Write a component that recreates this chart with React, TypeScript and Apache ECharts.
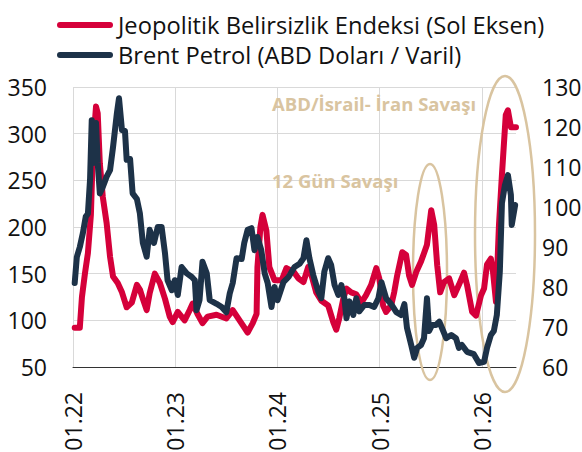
import React, { useEffect, useRef } from "react";
import * as echarts from "echarts";

// x = months since Jan 2022
const gprData: [number, number][] = [
  [0.2, 92], [0.8, 92], [1.05, 125], [1.4, 150], [1.75, 172], [2.1, 213], [2.35, 286], [2.7, 329],
  [2.9, 322], [3.15, 268], [3.5, 232], [3.95, 204], [4.35, 168], [4.7, 147], [5.25, 140], [5.75, 130],
  [6.3, 114], [6.9, 119], [7.5, 138], [7.85, 133], [8.2, 123], [8.65, 111], [9.0, 129], [9.6, 150],
  [10.2, 140], [10.8, 123], [11.35, 104], [11.7, 98], [12.3, 109], [13.1, 100], [13.7, 111], [14.05, 118],
  [14.6, 107], [15.2, 97], [15.8, 104], [16.85, 106], [18.0, 102], [18.75, 111], [19.55, 100], [20.5, 87],
  [21.1, 97], [21.55, 107], [21.65, 157], [22.0, 200], [22.25, 213], [22.7, 196], [23.05, 157], [23.65, 143],
  [24.5, 143], [25.05, 156], [25.9, 152], [26.45, 145], [27.05, 141], [27.6, 157], [28.0, 148], [28.55, 130],
  [29.15, 121], [29.95, 116], [30.55, 98], [30.9, 90], [31.25, 102], [31.75, 124], [32.1, 134], [32.65, 130],
  [33.25, 128], [33.85, 119], [34.4, 127], [35.0, 138], [35.6, 156], [35.95, 145], [36.4, 116], [36.75, 109],
  [37.35, 116], [37.7, 130], [38.05, 148], [38.65, 173], [39.1, 170], [39.45, 148], [39.8, 138], [40.3, 152],
  [40.85, 163], [41.2, 172], [41.55, 181], [42.05, 218], [42.4, 202], [42.75, 159], [43.1, 130], [43.55, 141],
  [44.15, 145], [44.75, 127], [45.3, 138], [45.9, 151], [46.25, 138], [46.85, 109], [47.3, 105], [47.9, 127],
  [48.25, 134], [48.6, 160], [49.05, 166], [49.3, 152], [49.65, 120], [50.0, 202], [50.35, 256], [50.8, 320],
  [51.05, 325], [51.4, 307], [52.0, 307],
];

const brentData: [number, number][] = [
  [0.2, 81], [0.45, 87.5], [0.8, 90], [1.15, 93.4], [1.5, 97.6], [1.75, 98.3], [2.0, 106.8], [2.2, 121.7],
  [2.35, 111], [2.7, 121], [2.9, 111], [3.15, 103.4], [3.5, 105], [3.95, 107.6], [4.35, 109.2], [4.7, 115],
  [5.15, 123.4], [5.4, 127.2], [5.75, 119.2], [6.1, 119], [6.3, 111.8], [6.7, 112], [7.0, 103.4], [7.5, 102],
  [7.85, 98.4], [8.2, 91], [8.65, 87.6], [9.0, 94.3], [9.5, 91], [9.95, 95], [10.4, 95], [10.8, 88.4],
  [11.1, 81.7], [11.6, 79.2], [11.95, 81.7], [12.3, 78], [12.75, 85], [13.35, 83.4], [13.95, 82.5], [14.3, 81.7],
  [14.5, 74.2], [14.85, 76.7], [15.2, 86.3], [15.7, 83.4], [16.05, 76.7], [16.85, 75.8], [17.45, 75], [18.0, 73.7],
  [18.4, 78.4], [18.75, 81], [19.2, 87.2], [19.8, 87], [20.1, 91], [20.5, 94.3], [20.95, 94.7], [21.3, 89.2],
  [21.65, 92.5], [22.1, 89.2], [22.5, 83.4], [22.85, 81], [23.3, 75], [23.65, 80], [24.0, 76.7], [24.7, 81.2],
  [25.3, 82.5], [26.0, 85], [26.6, 85.8], [27.05, 87.2], [27.4, 91.7], [27.75, 87.2], [28.2, 83], [28.8, 78.8],
  [29.15, 77.2], [29.5, 83.8], [29.95, 87.2], [30.3, 85.5], [30.7, 80.5], [31.15, 78], [31.5, 80.5], [31.85, 77.2],
  [32.1, 72.2], [32.45, 76.4], [32.9, 73], [33.25, 77.2], [33.6, 73.9], [34.2, 75.5], [34.8, 75.5], [35.35, 75],
  [35.85, 77.2], [36.2, 81.2], [36.75, 77.2], [37.35, 75.7], [37.95, 73.7], [38.5, 73], [38.9, 75.7], [39.2, 69.8],
  [39.7, 65.5], [40.05, 62.3], [40.4, 64.8], [40.85, 65.5], [41.2, 67.2], [41.55, 77.2], [41.8, 69], [42.15, 70.5],
  [42.6, 70.5], [43.0, 71.3], [43.3, 69.8], [43.8, 67.2], [44.4, 68], [44.95, 67.2], [45.3, 64.8], [45.65, 65.5],
  [46.25, 63.8], [47.05, 63.2], [47.65, 61], [48.25, 61.3], [48.6, 64.8], [49.05, 68], [49.4, 69], [49.75, 73],
  [50.1, 83.8], [50.35, 101], [50.7, 105.5], [51.05, 108], [51.4, 103], [51.5, 95.5], [51.9, 100.5],
];

const seriesNames = ["Jeopolitik Belirsizlik Endeksi (Sol Eksen)", "Brent Petrol (ABD Doları / Varil)"];
const annotations = ["ABD/İsrail- İran Savaşı", "12 Gün Savaşı"];
const yearStart = 22;

const FONT = "'Open Sans', 'Noto Sans', sans-serif";
const RED = "#D5003A";
const NAVY = "#1D3248";
const TAN = "#D9C4A0";
const ICON = "path://M3,0 L53,0 A3,3 0 0 1 53,6 L3,6 A3,3 0 0 1 3,0 Z";

export default function App() {
  const ref = useRef<HTMLDivElement>(null);
  useEffect(() => {
    document.body.style.margin = "0";
    if (!ref.current) return;
    const chart = echarts.init(ref.current, undefined, { renderer: "svg" });
    chart.setOption({
      animation: false,
      backgroundColor: "#ffffff",
      textStyle: { fontFamily: FONT },
      legend: {
        orient: "vertical",
        left: 52,
        top: 6,
        itemWidth: 56,
        itemHeight: 7,
        itemGap: 2,
        icon: ICON,
        textStyle: { fontFamily: FONT, fontSize: 23.7, color: "#111", lineHeight: 28 },
        data: [
          { name: seriesNames[0], itemStyle: { color: RED } },
          { name: seriesNames[1], itemStyle: { color: NAVY } },
        ],
      },
      grid: { left: 73, right: 66, top: 87, bottom: 85, containLabel: false, outerBoundsMode: "none" },
      xAxis: {
        type: "value",
        min: 0,
        max: 52,
        interval: 12,
        axisLine: { show: true, lineStyle: { color: "#333", width: 1 } },
        axisTick: { show: false },
        axisLabel: {
          rotate: 90,
          margin: 25,
          fontSize: 23,
          color: "#111",
          fontFamily: FONT,
          showMaxLabel: false,
          formatter: (v: number) => (v % 12 === 0 ? "01." + String(yearStart + v / 12) : ""),
        },
        splitLine: { show: true, showMaxLine: false, lineStyle: { color: "#d9d9d9", width: 1 } },
      },
      yAxis: [
        {
          type: "value",
          min: 50,
          max: 350,
          interval: 50,
          axisLine: { show: false },
          axisTick: { show: false },
          axisLabel: { fontSize: 23, color: "#111", margin: 26, fontFamily: FONT },
          splitLine: { show: true, lineStyle: { color: "#d9d9d9", width: 1 } },
        },
        {
          type: "value",
          min: 60,
          max: 130,
          interval: 10,
          axisLine: { show: false },
          axisTick: { show: false },
          axisLabel: { fontSize: 23, color: "#111", margin: 26, fontFamily: FONT },
          splitLine: { show: false },
        },
      ],
      series: [
        {
          name: seriesNames[0],
          type: "line",
          yAxisIndex: 0,
          data: gprData,
          showSymbol: false,
          symbol: "none",
          lineStyle: { color: RED, width: 6, join: "round", cap: "round" },
          itemStyle: { color: RED },
          z: 3,
        },
        {
          name: seriesNames[1],
          type: "line",
          yAxisIndex: 1,
          data: brentData,
          showSymbol: false,
          symbol: "none",
          lineStyle: { color: NAVY, width: 6, join: "round", cap: "round" },
          itemStyle: { color: NAVY },
          z: 4,
        },
      ],
      graphic: [
        {
          type: "text",
          left: 272,
          top: 94,
          style: { text: annotations[0], fill: TAN, font: `bold 18.5px ${FONT}` },
          z: 1,
        },
        {
          type: "text",
          left: 272,
          top: 171,
          style: { text: annotations[1], fill: TAN, font: `bold 18.5px ${FONT}` },
          z: 1,
        },
        {
          type: "ellipse",
          shape: { cx: 430, cy: 272, rx: 17, ry: 108 },
          style: { fill: "none", stroke: TAN, lineWidth: 2.5 },
          z: 1,
        },
        {
          type: "ellipse",
          shape: { cx: 505, cy: 234, rx: 30, ry: 158 },
          style: { fill: "none", stroke: TAN, lineWidth: 2.5 },
          z: 1,
        },
      ],
    });
    return () => chart.dispose();
  }, []);
  return <div ref={ref} style={{ width: 582, height: 452 }} />;
}
